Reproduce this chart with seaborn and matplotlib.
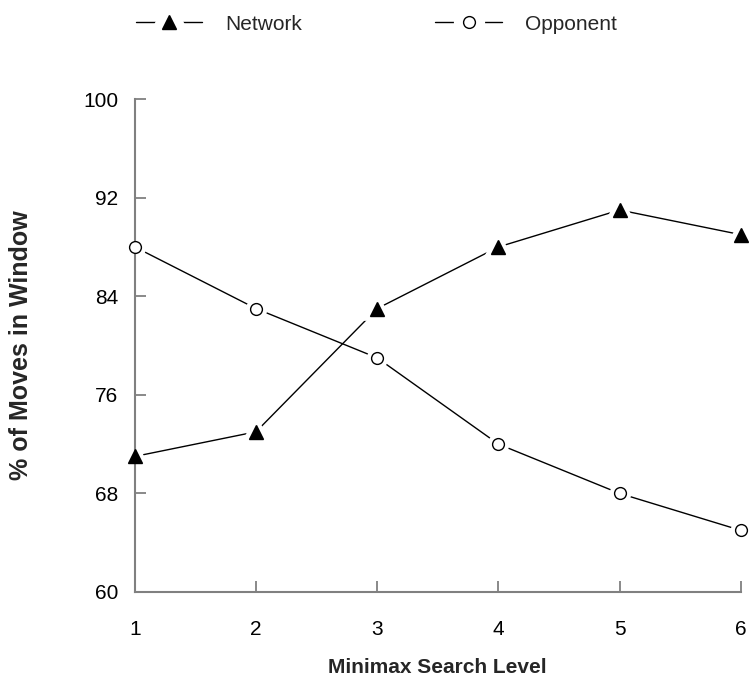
import matplotlib
matplotlib.use("Agg")
import matplotlib.pyplot as plt
import seaborn as sns
import pandas as pd
from matplotlib.lines import Line2D
from matplotlib.legend_handler import HandlerTuple

levels = [1, 2, 3, 4, 5, 6]
network = [71.0, 73.0, 83.0, 88.0, 91.0, 89.0]
opponent = [88.0, 83.0, 79.0, 72.0, 68.0, 65.0]
yticks = [60, 68, 76, 84, 92, 100]

sns.set_theme(style="white")
plt.rcParams["font.family"] = ["Liberation Sans", "DejaVu Sans"]

fig = plt.figure(figsize=(7.49, 6.77), dpi=100)
ax = fig.add_axes([0.180, 0.1256, 0.809, 0.728])

df = pd.DataFrame({"level": levels, "Network": network, "Opponent": opponent})

series = [("Network", "^", 9.5, "black"), ("Opponent", "o", 8.5, "white")]
handles = []
for name, mk, ms, face in series:
    # connecting line
    sns.lineplot(data=df, x="level", y=name, ax=ax, color="black", lw=1.0,
                 zorder=1, legend=False)
    # white halo leaves a small gap between line and marker
    sns.lineplot(data=df, x="level", y=name, ax=ax, linestyle="", marker=mk,
                 markersize=ms, markerfacecolor="white", markeredgecolor="white",
                 markeredgewidth=7, zorder=2, legend=False, clip_on=False)
    sns.lineplot(data=df, x="level", y=name, ax=ax, linestyle="", marker=mk,
                 markersize=ms, markerfacecolor=face, markeredgecolor="black",
                 markeredgewidth=1.0, zorder=3, legend=False, clip_on=False)
    h_line = Line2D([], [], color="black", lw=1.0)
    h_halo = Line2D([], [], linestyle="", marker=mk, markersize=ms,
                    markerfacecolor="white", markeredgecolor="white", markeredgewidth=14)
    h_mark = Line2D([], [], linestyle="", marker=mk, markersize=ms,
                    markerfacecolor=face, markeredgecolor="black", markeredgewidth=1.0)
    handles.append((h_line, h_halo, h_mark))

ax.set_xlim(1, 6)
ax.set_ylim(60, 100)
ax.set_xticks(levels)
ax.set_yticks(yticks)
ax.set_xticklabels([str(v) for v in levels])
ax.set_yticklabels([str(v) for v in yticks])

for side in ["top", "right"]:
    ax.spines[side].set_visible(False)
for side in ["left", "bottom"]:
    ax.spines[side].set_color("#808080")
    ax.spines[side].set_linewidth(1.5)

ax.tick_params(axis="both", direction="in", length=8, width=1.3, color="#808080",
               labelsize=15, labelcolor="black", left=True, bottom=True)
ax.tick_params(axis="y", pad=12)
ax.tick_params(axis="x", pad=20)

ax.set_xlabel("Minimax Search Level", fontsize=15, fontweight="bold", labelpad=14)
ax.set_ylabel("% of Moves in Window", fontsize=18, fontweight="bold", labelpad=36)

fig.legend(handles, ["Network", "Opponent"], loc="center left",
           bbox_to_anchor=(0.181, 0.9645), ncol=2, frameon=False, fontsize=15,
           handlelength=3.2, handletextpad=1.1, columnspacing=6.4,
           borderpad=0, borderaxespad=0,
           handler_map={tuple: HandlerTuple(ndivide=1)})

fig.savefig("out.png", dpi=100)
